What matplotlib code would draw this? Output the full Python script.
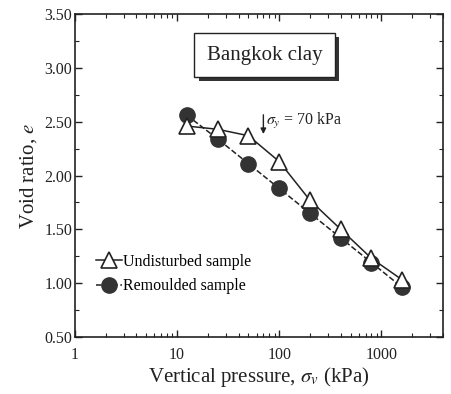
import numpy as np
import matplotlib.pyplot as plt
from matplotlib.ticker import MultipleLocator, FormatStrFormatter, LogLocator, FixedFormatter, FixedLocator
import matplotlib.patheffects as pe

# data
pressure = [12.5, 25, 50, 100, 200, 400, 800, 1600]
e_undisturbed = [2.46, 2.43, 2.37, 2.13, 1.77, 1.50, 1.23, 1.03]
e_remoulded = [2.56, 2.34, 2.11, 1.88, 1.65, 1.42, 1.19, 0.96]
sigma_y = 70

plt.rcParams['font.family'] = ['Liberation Serif', 'DejaVu Serif']
plt.rcParams['mathtext.fontset'] = 'stix'

fig = plt.figure(figsize=(4.51, 3.94), dpi=100)
ax = fig.add_axes([0.166, 0.145, 0.816, 0.819])

ink = '#222222'
ax.plot(pressure, e_undisturbed, '-', color=ink, lw=1.1, marker='^', ms=11,
        mfc='white', mec=ink, mew=1.2, label='Undisturbed sample', zorder=3)
ax.plot(pressure, e_remoulded, '--', color=ink, lw=1.1, marker='o', ms=11,
        mfc='#333333', mec='#333333', label='Remoulded sample', zorder=2)

ax.set_xscale('log')
ax.set_xlim(1, 4000)
ax.set_ylim(0.5, 3.5)
ax.xaxis.set_major_locator(FixedLocator([1, 10, 100, 1000]))
ax.xaxis.set_major_formatter(FixedFormatter(['1', '10', '100', '1000']))
ax.xaxis.set_minor_locator(LogLocator(base=10, subs=np.arange(2, 10)))
ax.yaxis.set_major_locator(MultipleLocator(0.5))
ax.yaxis.set_minor_locator(MultipleLocator(0.25))
ax.yaxis.set_major_formatter(FormatStrFormatter('%.2f'))
ax.tick_params(which='both', direction='in', top=True, right=True, color=ink,
               labelsize=11.5, labelcolor=ink)
ax.tick_params(which='major', length=5, width=1)
ax.tick_params(which='minor', length=3, width=0.8)
ax.tick_params(axis='x', which='major', pad=7)
ax.tick_params(axis='y', which='major', pad=2)
for s in ax.spines.values():
    s.set_color(ink)
    s.set_linewidth(1.2)

ax.set_xlabel(r'Vertical pressure, $\sigma_v$ (kPa)', fontsize=15, color=ink, labelpad=2)
ax.set_ylabel(r'Void ratio, $e$', fontsize=15, color=ink, labelpad=4)

# yield stress arrow
ax.annotate('', xy=(sigma_y, 2.36), xytext=(sigma_y, 2.59),
            arrowprops=dict(arrowstyle='-|>', color=ink, lw=1, mutation_scale=8))
ax.text(sigma_y * 1.06, 2.51, r'$\sigma_y$ = 70 kPa', fontsize=11.5, color=ink,
        va='center', ha='left')

# title box with shadow
ax.text(0.516, 0.873, 'Bangkok clay', transform=ax.transAxes, fontsize=15,
        color=ink, ha='center', va='center',
        bbox=dict(boxstyle='square,pad=0.6', fc='white', ec=ink, lw=1,
                  path_effects=[pe.withSimplePatchShadow(offset=(3, -3),
                                                         shadow_rgbFace='#333333',
                                                         alpha=1)]))

ax.legend(loc='center left', bbox_to_anchor=(0.04, 0.195), frameon=False,
          fontsize=11.5, handlelength=1.6, handletextpad=0.1, labelspacing=0.55,
          borderaxespad=0)

fig.savefig('out.png', dpi=100)
